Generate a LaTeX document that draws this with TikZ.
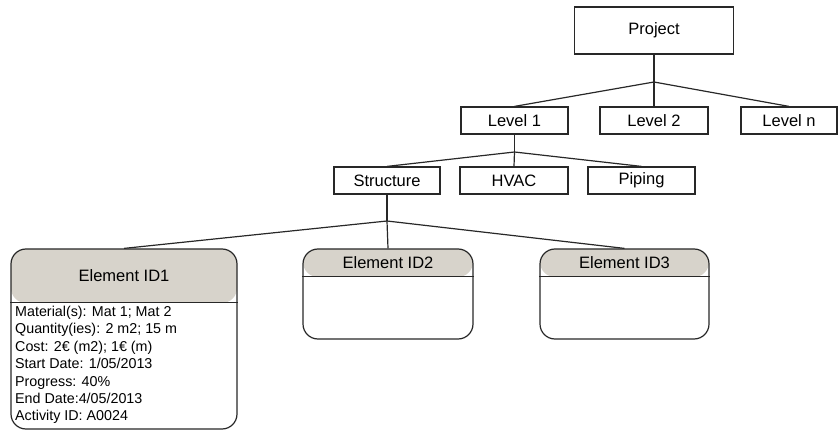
\documentclass[tikz,border=0pt]{standalone}
\usepackage{fontspec}
\setmainfont{Liberation Sans}
\definecolor{hdr}{RGB}{215,211,203}
\definecolor{ln}{RGB}{40,40,40}
\begin{document}
\begin{tikzpicture}[x=1pt,y=-1pt,
  box/.style={draw=ln, line width=1.2pt, rectangle, inner sep=0pt, minimum height=27pt, font=\fontsize{16.5}{19}\selectfont},
  conn/.style={draw=ln, line width=1.2pt},
  elem/.style={draw=ln, line width=1.2pt, rounded corners=15pt, inner sep=0pt,
    path picture={\fill[hdr] (path picture bounding box.north west) rectangle ([yshift=-#1]path picture bounding box.north east);}},
  sep/.style={draw=ln, line width=1.2pt},
  ttl/.style={inner sep=0pt, font=\fontsize{16.5}{19}\selectfont},
  det/.style={inner sep=0pt, anchor=base west, font=\fontsize{14.3}{17}\selectfont}]
\useasboundingbox (0,0) rectangle (839,430);
% boxes
\node[box, minimum width=159pt, minimum height=47pt] (proj) at (654,30.5) {Project};
\node[box, minimum width=107pt] (l1) at (514.5,120.5) {Level 1};
\node[box, minimum width=108pt] (l2) at (654,120.5) {Level 2};
\node[box, minimum width=96pt] (ln) at (789,120.5) {Level n};
\node[box, minimum width=106pt] (st) at (387,180.5) {Structure};
\node[box, minimum width=108pt] (hv) at (514,180.5) {HVAC};
\node[box, minimum width=107pt] (pi) at (641.5,180.5) {Piping};
% junctions
\coordinate (j0) at (654,82);
\coordinate (j1) at (514.5,152);
\coordinate (j2) at (387,221);
% elements
\node[elem=54pt, minimum width=226pt, minimum height=180pt] (e1) at (124,339) {};
\node[elem=28pt, minimum width=170pt, minimum height=90pt] (e2) at (388,294) {};
\node[elem=28pt, minimum width=169pt, minimum height=90pt] (e3) at (624.5,294) {};
\draw[sep] ([yshift=-54pt]e1.north west) -- ([yshift=-54pt]e1.north east);
\draw[sep] ([yshift=-28pt]e2.north west) -- ([yshift=-28pt]e2.north east);
\draw[sep] ([yshift=-28pt]e3.north west) -- ([yshift=-28pt]e3.north east);
\node[ttl] (t1) at ([yshift=-27pt]e1.north) {Element ID1};
\node[ttl] (t2) at ([yshift=-14pt]e2.north) {Element ID2};
\node[ttl] (t3) at ([yshift=-14pt]e3.north) {Element ID3};
% details
\node[det] (d1) at (15,316.6) {Material(s): Mat 1; Mat 2};
\node[det] (d2) at (15,334.0) {Quantity(ies): 2 m2; 15 m};
\node[det] (d3) at (15,351.4) {Cost: 2€ (m2); 1€ (m)};
\node[det] (d4) at (15,368.8) {Start Date: 1/05/2013};
\node[det] (d5) at (15,386.2) {Progress: 40\%};
\node[det] (d6) at (15,403.6) {End Date:4/05/2013};
\node[det] (d7) at (15,421.0) {Activity ID: A0024};
% connectors
\draw[conn] (proj.south) -- (j0);
\draw[conn] (j0) -- (l1.north);
\draw[conn] (j0) -- (l2.north);
\draw[conn] (j0) -- (ln.north);
\draw[conn] (l1.south) -- (j1);
\draw[conn] (j1) -- (st.north);
\draw[conn] (j1) -- (hv.north);
\draw[conn] (j1) -- (pi.north);
\draw[conn] (st.south) -- (j2);
\draw[conn] (j2) -- (e1.north);
\draw[conn] (j2) -- (e2.north);
\draw[conn] (j2) -- (e3.north);
\end{tikzpicture}
\end{document}
